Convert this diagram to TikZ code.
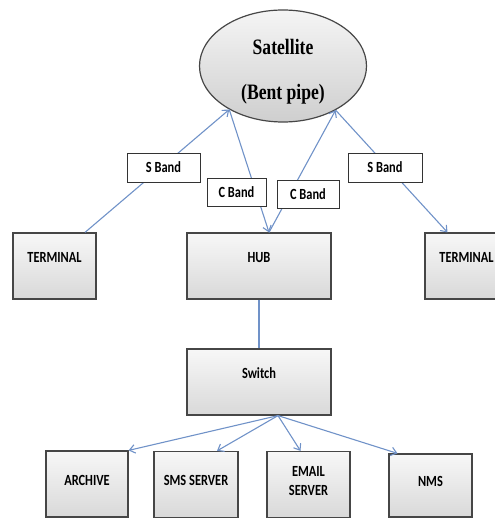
\documentclass[tikz,border=0pt]{standalone}
\usepackage{fontspec}
\setmainfont{Liberation Serif}
\newfontfamily\boxfont{Carlito}[FakeStretch=0.8]
\newfontfamily\satfont{Liberation Serif}[FakeStretch=0.8]
\usetikzlibrary{arrows.meta,positioning,shapes.geometric}
\definecolor{linkblue}{RGB}{112,146,200}
\definecolor{boxedge}{RGB}{70,70,70}

\begin{document}
\begin{tikzpicture}[
  x=1pt, y=-1pt,
  every node/.style={font=\boxfont\bfseries\fontsize{15.5}{17}\selectfont, align=center},
  unit/.style={draw=boxedge, line width=1.2pt, top color=gray!6, bottom color=gray!30,
    minimum height=66pt, inner sep=0pt},
  topunit/.style={unit, text depth=17pt},
  lowunit/.style={unit, text depth=8pt},
  band/.style={draw=black!80, line width=0.8pt, fill=white, minimum height=29pt, inner sep=0pt},
  link/.style={draw=linkblue, line width=1.1pt},
  arr/.style={link, -{Straight Barb[length=5.5pt,width=8.5pt]}}
]
\useasboundingbox (0,0) rectangle (494,518);

% satellite
\node[ellipse, draw=boxedge, line width=1.2pt, top color=gray!8, bottom color=gray!38,
  minimum width=167pt, minimum height=112pt, inner sep=0pt,
  font=\satfont\bfseries\fontsize{22}{24}\selectfont] (sat) at (283,66)
  {\rule{0pt}{27pt}Satellite\\[21pt](Bent pipe)};

% ground segment
\node[topunit, minimum width=83pt] (termL) at (54.5,266) {TERMINAL};
\node[topunit, minimum width=144pt] (hub) at (259,266) {HUB};
\node[topunit, minimum width=83pt] (termR) at (466.5,266) {TERMINAL};
\node[topunit, minimum width=144pt] (switch) at (259,382) {Switch};

% servers
\node[lowunit, minimum width=82pt] (archive) at (87,484) {ARCHIVE};
\node[lowunit, minimum width=84pt] (sms) at (196,484.5) {SMS SERVER};
\node[lowunit, minimum width=83pt] (email) at (308.5,484.5) {EMAIL\\[2pt]SERVER};
\node[lowunit, minimum width=83pt, minimum height=63pt] (nms) at (430.5,485.5) {NMS};

% links
\draw[arr] ([xshift=30.5pt]termL.north) -- (sat.219);
\draw[arr] (sat.219) -- ([xshift=10pt]hub.north);
\draw[arr] ([xshift=10pt]hub.north) -- (sat.320);
\draw[arr] (sat.320) -- ([xshift=-19pt]termR.north);
\draw[link] (hub) -- (switch);
\draw[arr] ([xshift=19pt]switch.south) -- (archive.north east);
\draw[arr] ([xshift=19pt]switch.south) -- ([xshift=21pt]sms.north);
\draw[arr] ([xshift=19pt]switch.south) -- ([xshift=-8pt]email.north);
\draw[arr] ([xshift=19pt]switch.south) -- ([xshift=-33pt]nms.north);

% band labels
\node[band, minimum width=73pt] (sbandL) at (163.5,167.5) {S Band};
\node[band, minimum width=59pt, minimum height=28pt] (cbandL) at (236.5,192) {C Band};
\node[band, minimum width=62pt, minimum height=28pt] (cbandR) at (308,194) {C Band};
\node[band, minimum width=74pt] (sbandR) at (385,167.5) {S Band};
\end{tikzpicture}
\end{document}
